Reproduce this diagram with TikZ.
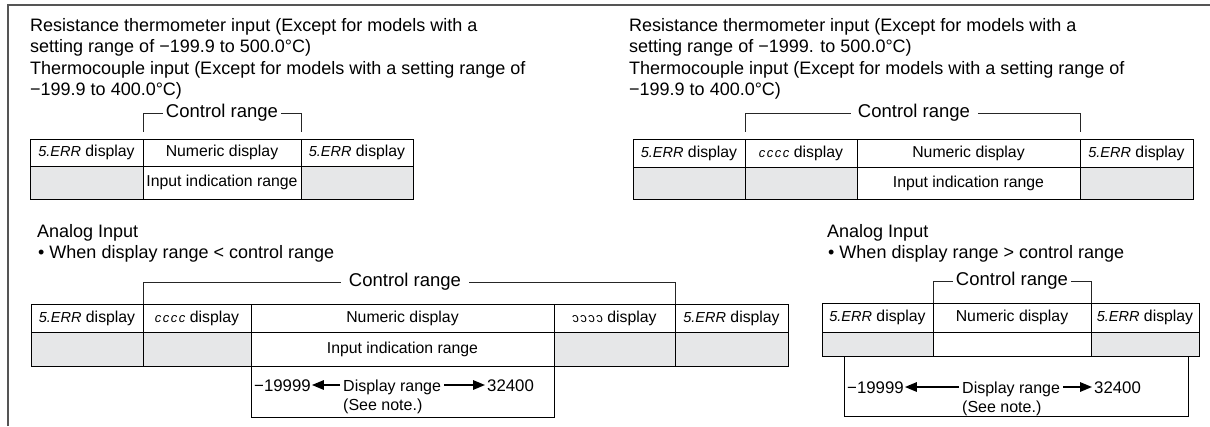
\documentclass[tikz,border=0pt]{standalone}
\usepackage{fontspec}
\setmainfont{Liberation Sans}
\usepackage{graphicx}
\usetikzlibrary{arrows.meta}
\definecolor{cellgray}{HTML}{E6E7E8}
\definecolor{framegray}{HTML}{555555}
\newcommand\serr{{\fontsize{14.5}{16}\selectfont\itshape 5.ERR}}
\newcommand\cccc{{\fontsize{13}{16}\selectfont\itshape c\kern1.5pt c\kern1.5pt c\kern1.5pt c}}
\newcommand\dddd{\reflectbox{\cccc}}
\tikzset{
  hd/.style={anchor=base west, inner sep=0pt, font=\fontsize{18}{21}\selectfont},
  cell/.style={draw=black, line width=0.9pt, inner sep=0pt, font=\fontsize{15.8}{18}\selectfont},
  shade/.style={cell, fill=cellgray},
  crange/.style={inner sep=0pt, font=\fontsize{18.5}{21}\selectfont},
  brk/.style={line width=0.8pt, draw=black!85},
  arr/.style={line width=1.6pt, -{Triangle[length=12pt,width=9.5pt]}},
  num/.style={anchor=base west, inner sep=0pt, font=\fontsize{16.8}{21}\selectfont},
  drt/.style={anchor=base west, inner sep=0pt, font=\fontsize{16}{19}\selectfont},
  frame/.style={line width=1.6pt, draw=framegray},
}
\begin{document}
\begin{tikzpicture}[x=1pt,y=-1pt]
\useasboundingbox (0,0) rectangle (1210,426);
% frame
\coordinate (fa) at (8,426);
\coordinate (fb) at (8,5);
\coordinate (fc) at (1210,5);
\draw[frame] (fa) -- (fb) -- (fc);

% ---------- top left ----------
\node[hd] (tl1) at (30,31) {Resistance thermometer input (Except for models with a};
\node[hd] (tl2) at (30,52.5) {setting range of −199.9 to 500.0°C)};
\node[hd] (tl3) at (30,74) {Thermocouple input (Except for models with a setting range of};
\node[hd] (tl4) at (30,95.5) {−199.9 to 400.0°C)};
\node[crange] (cr1) at (222,113) {Control range};
\coordinate (cr1a) at (143,132);
\coordinate (cr1b) at (301,132);
\draw[brk] ([xshift=-3]cr1.west) -| (cr1a);
\draw[brk] ([xshift=3]cr1.east) -| (cr1b);

\node[cell, minimum width=113, minimum height=27] (a11) at (86.5,152.5) {\serr{} display};
\node[cell, minimum width=158, minimum height=27] (a12) at (222,152.5) {Numeric display};
\node[cell, minimum width=112, minimum height=27] (a13) at (357,152.5) {\serr{} display};
\node[shade, minimum width=113, minimum height=33] (a21) at (86.5,182.5) {};
\node[cell, minimum width=158, minimum height=33] (a22) at (222,182.5) {Input indication range};
\node[shade, minimum width=112, minimum height=33] (a23) at (357,182.5) {};

% ---------- top right ----------
\node[hd] (tr1) at (629,31) {Resistance thermometer input (Except for models with a};
\node[hd] (tr2) at (629,52.5) {setting range of −1999. to 500.0°C)};
\node[hd] (tr3) at (629,74) {Thermocouple input (Except for models with a setting range of};
\node[hd] (tr4) at (629,95.5) {−199.9 to 400.0°C)};
\node[crange] (cr2) at (914,113) {Control range};
\coordinate (cr2a) at (745,132);
\coordinate (cr2b) at (1080,132);
\draw[brk] ([xshift=-7]cr2.west) -| (cr2a);
\draw[brk] ([xshift=8]cr2.east) -| (cr2b);

\node[cell, minimum width=112, minimum height=28] (b11) at (689,153) {\serr{} display};
\node[cell, minimum width=112, minimum height=28] (b12) at (801,153) {\cccc{} display};
\node[cell, minimum width=223, minimum height=28] (b13) at (968.5,153) {Numeric display};
\node[cell, minimum width=113, minimum height=28] (b14) at (1136.5,153) {\serr{} display};
\node[shade, minimum width=112, minimum height=32] (b21) at (689,183) {};
\node[shade, minimum width=112, minimum height=32] (b22) at (801,183) {};
\node[cell, minimum width=223, minimum height=32] (b23) at (968.5,183) {Input indication range};
\node[shade, minimum width=113, minimum height=32] (b24) at (1136.5,183) {};

% ---------- bottom left ----------
\node[hd] (bl1) at (37,237) {Analog Input};
\node[hd] (bl2) at (38,258) {• When display range < control range};
\node[crange] (cr3) at (405,282) {Control range};
\coordinate (cr3a) at (143,304);
\coordinate (cr3b) at (675,304);
\draw[brk] ([xshift=-8]cr3.west) -| (cr3a);
\draw[brk] ([xshift=8]cr3.east) -| (cr3b);

\node[cell, minimum width=112, minimum height=28] (c11) at (87,318) {\serr{} display};
\node[cell, minimum width=108, minimum height=28] (c12) at (197,318) {\cccc{} display};
\node[cell, minimum width=303, minimum height=28] (c13) at (402.5,318) {Numeric display};
\node[cell, minimum width=121, minimum height=28] (c14) at (614.5,318) {\dddd{} display};
\node[cell, minimum width=113, minimum height=28] (c15) at (731.5,318) {\serr{} display};
\node[shade, minimum width=112, minimum height=34] (c21) at (87,349) {};
\node[shade, minimum width=108, minimum height=34] (c22) at (197,349) {};
\node[cell, minimum width=303, minimum height=34] (c23) at (402.5,349) {Input indication range};
\node[shade, minimum width=121, minimum height=34] (c24) at (614.5,349) {};
\node[shade, minimum width=113, minimum height=34] (c25) at (731.5,349) {};
\node[cell, fill=none, minimum width=303, minimum height=51] (cbox) at (402.5,391.5) {};
\node[num] (m1) at (254,391) {−19999};
\node[drt] (d1) at (343,391) {Display range};
\node[num] (p1) at (487,391) {32400};
\node[drt] (s1) at (343,410) {(See note.)};
\draw[arr] ([shift={(-3,-6)}]d1.base west) -- ([shift={(1,-6)}]m1.base east);
\draw[arr] ([shift={(3,-6)}]d1.base east) -- ([shift={(-2,-6)}]p1.base west);

% ---------- bottom right ----------
\node[hd] (br1) at (827,237) {Analog Input};
\node[hd] (br2) at (828,258) {• When display range > control range};
\node[crange] (cr4) at (1012,281) {Control range};
\coordinate (cr4a) at (933,303);
\coordinate (cr4b) at (1091,303);
\draw[brk] ([xshift=-3]cr4.west) -| (cr4a);
\draw[brk] ([xshift=3]cr4.east) -| (cr4b);

\node[cell, minimum width=111, minimum height=29] (e11) at (877.5,317.5) {\serr{} display};
\node[cell, minimum width=158, minimum height=29] (e12) at (1012,317.5) {Numeric display};
\node[cell, minimum width=108, minimum height=29] (e13) at (1145,317.5) {\serr{} display};
\node[shade, minimum width=111, minimum height=24] (e21) at (877.5,344) {};
\node[cell, minimum width=158, minimum height=24] (e22) at (1012,344) {};
\node[shade, minimum width=108, minimum height=24] (e23) at (1145,344) {};
\node[cell, fill=none, minimum width=344, minimum height=60] (ebox) at (1016,386) {};
\node[num] (m2) at (847,393) {−19999};
\node[drt] (d2) at (962,393) {Display range};
\node[num] (p2) at (1094,393) {32400};
\node[drt] (s2) at (962,412) {(See note.)};
\draw[arr] ([shift={(-3,-6)}]d2.base west) -- ([shift={(1,-6)}]m2.base east);
\draw[arr] ([shift={(3,-6)}]d2.base east) -- ([shift={(-2,-6)}]p2.base west);
\end{tikzpicture}
\end{document}
